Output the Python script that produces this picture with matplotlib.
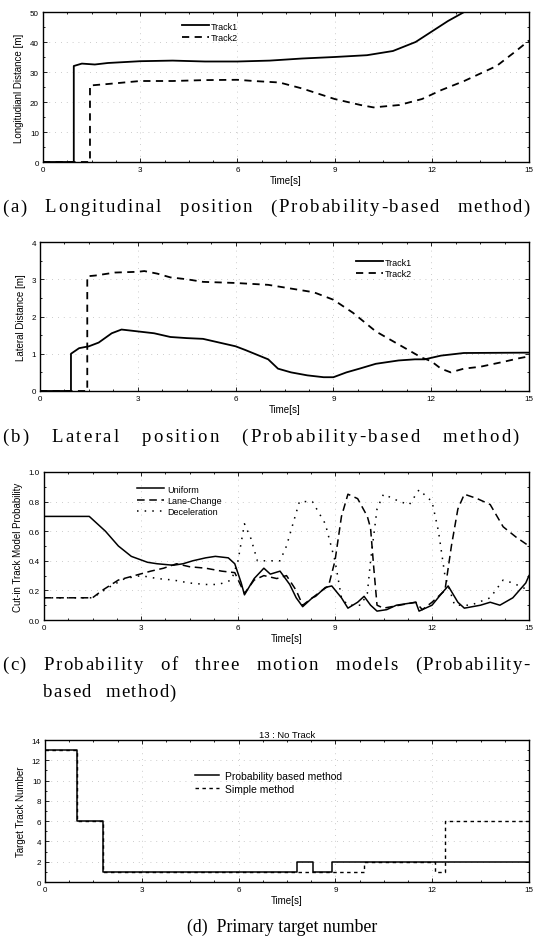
import matplotlib
matplotlib.use("Agg")
import matplotlib.pyplot as plt
import numpy as np
from matplotlib.ticker import MultipleLocator, FormatStrFormatter

# (a) longitudinal distance
t_a1 = [0, 0.95, 0.95, 1.2, 1.6, 2.0, 2.5, 3.0, 4.0, 5.0, 6.0, 7.0, 8.0, 9.0,
        10.0, 10.8, 11.5, 12.0, 12.5, 13.0, 15.0]
lon_1 = [0, 0, 32, 32.8, 32.5, 33.0, 33.3, 33.6, 33.8, 33.5, 33.5, 33.8, 34.5,
         35.0, 35.6, 37.0, 40.0, 43.5, 47.0, 50.0, 50.0]
t_a2 = [0, 1.45, 1.45, 2.0, 3.0, 4.0, 5.0, 6.0, 6.5, 7.3, 8.0, 9.0, 9.8, 10.2,
        11.0, 11.7, 12.3, 13.0, 14.0, 14.6, 15.0]
lon_2 = [0, 0, 25.5, 26.0, 27.0, 27.0, 27.3, 27.4, 27.0, 26.5, 24.5, 21.0,
         19.0, 18.2, 19.0, 21.0, 24.0, 27.0, 32.0, 37.0, 40.5]

# (b) lateral distance
t_b1 = [0, 0.95, 0.95, 1.2, 1.5, 1.8, 2.2, 2.5, 3.0, 3.5, 4.0, 4.5, 5.0, 5.5,
        6.0, 6.3, 7.0, 7.3, 7.7, 8.2, 8.7, 9.0, 9.4, 9.8, 10.3, 11.0, 11.5,
        11.8, 12.3, 13.0, 15.0]
lat_1 = [0, 0, 1.0, 1.15, 1.2, 1.3, 1.55, 1.65, 1.6, 1.55, 1.45, 1.42, 1.4,
         1.3, 1.2, 1.1, 0.85, 0.6, 0.5, 0.42, 0.37, 0.37, 0.5, 0.6, 0.73,
         0.82, 0.85, 0.85, 0.95, 1.02, 1.03]
t_b2 = [0, 1.45, 1.45, 1.7, 2.3, 3.0, 3.2, 3.6, 4.0, 4.5, 5.0, 6.0, 7.0, 7.7,
        8.4, 9.0, 9.6, 10.3, 11.0, 11.7, 12.0, 12.3, 12.6, 13.0, 13.5, 14.2,
        14.7, 15.0]
lat_2 = [0, 0, 3.08, 3.1, 3.18, 3.2, 3.22, 3.15, 3.05, 3.0, 2.93, 2.9, 2.85,
         2.75, 2.65, 2.45, 2.1, 1.6, 1.25, 0.9, 0.8, 0.6, 0.5, 0.6, 0.65,
         0.78, 0.88, 0.93]

# (c) model probabilities
t_u = [0, 1.4, 1.9, 2.3, 2.7, 3.2, 3.5, 4.0, 4.3, 4.6, 5.0, 5.3, 5.7, 5.9,
       6.1, 6.2, 6.5, 6.8, 7.0, 7.3, 7.6, 7.8, 8.0, 8.3, 8.4, 8.7, 8.9, 9.2,
       9.4, 9.7, 9.9, 10.1, 10.3, 10.6, 10.9, 11.2, 11.5, 11.6, 12.0, 12.3,
       12.5, 12.8, 13.0, 13.5, 13.8, 14.1, 14.5, 14.9, 15.0]
p_uniform = [0.7, 0.7, 0.6, 0.5, 0.43, 0.39, 0.38, 0.37, 0.38, 0.4, 0.42,
             0.43, 0.42, 0.38, 0.25, 0.17, 0.28, 0.35, 0.31, 0.33, 0.24,
             0.15, 0.09, 0.15, 0.16, 0.22, 0.23, 0.15, 0.08, 0.12, 0.16, 0.1,
             0.06, 0.07, 0.1, 0.11, 0.12, 0.06, 0.1, 0.18, 0.23, 0.12, 0.08,
             0.1, 0.12, 0.1, 0.15, 0.25, 0.3]
t_l = [0, 1.5, 1.8, 2.3, 2.8, 3.3, 3.7, 4.1, 4.5, 5.0, 5.5, 5.9, 6.2, 6.5,
       6.8, 7.2, 7.5, 7.8, 8.0, 8.3, 8.6, 8.8, 9.0, 9.2, 9.4, 9.7, 10.0,
       10.1, 10.2, 10.3, 10.5, 11.0, 11.5, 11.7, 12.0, 12.4, 12.6, 12.8,
       13.0, 13.4, 13.8, 14.2, 14.6, 15.0]
p_lane = [0.15, 0.15, 0.2, 0.27, 0.3, 0.33, 0.35, 0.38, 0.36, 0.35, 0.33,
          0.32, 0.18, 0.27, 0.3, 0.28, 0.3, 0.2, 0.1, 0.15, 0.2, 0.23, 0.4,
          0.7, 0.85, 0.82, 0.7, 0.62, 0.35, 0.1, 0.08, 0.1, 0.12, 0.07, 0.12,
          0.2, 0.5, 0.75, 0.85, 0.82, 0.78, 0.63, 0.56, 0.5]
t_d = [0, 1.5, 2.0, 2.5, 3.0, 3.5, 4.0, 4.5, 5.0, 5.4, 5.8, 6.0, 6.2, 6.4,
       6.6, 7.3, 7.5, 7.9, 8.3, 8.7, 9.0, 9.2, 9.4, 9.8, 10.0, 10.1, 10.3,
       10.5, 11.0, 11.3, 11.6, 12.0, 12.2, 12.4, 12.7, 13.2, 13.8, 14.2,
       14.5, 15.0]
p_decel = [0.15, 0.15, 0.22, 0.28, 0.3, 0.28, 0.27, 0.25, 0.24, 0.24, 0.27,
           0.4, 0.65, 0.55, 0.4, 0.4, 0.5, 0.8, 0.8, 0.65, 0.4, 0.15, 0.1,
           0.1, 0.18, 0.4, 0.75, 0.85, 0.8, 0.78, 0.88, 0.8, 0.6, 0.3, 0.1,
           0.1, 0.15, 0.27, 0.25, 0.2]

# (d) target track number (step)
t_prob = [0, 1.0, 1.8, 7.8, 8.3, 8.9, 15.0]
n_prob = [13, 6, 1, 2, 1, 2, 2]
t_simple = [0, 1.0, 1.8, 9.9, 12.1, 12.4, 15.0]
n_simple = [13, 6, 1, 2, 1, 6, 6]

xticks = [0, 3, 6, 9, 12, 15]

plt.rcParams['font.family'] = ['Liberation Sans', 'DejaVu Sans']

W, H = 536, 937
fig = plt.figure(figsize=(W / 100, H / 100), dpi=100)
renderer = fig.canvas.get_renderer()
capfont = dict(family='Liberation Serif', fontsize=13.5)
ESPACIO = 4.5   # ancho de un espacio en px
K_ESP = 6       # los espacios se estiran K_ESP veces mas que las letras


def px_axes(l, t, r, b):
    return fig.add_axes([l / W, 1 - b / H, (r - l) / W, (b - t) / H])


def estilo(ax, ymax, ystep, ylabel, fmt=None):
    ax.set_xlim(0, 15)
    ax.set_ylim(0, ymax)
    ax.set_xticks(xticks)
    ax.yaxis.set_major_locator(MultipleLocator(ystep))
    ax.xaxis.set_minor_locator(MultipleLocator(0.75))
    ax.yaxis.set_minor_locator(MultipleLocator(ystep / 2))
    ax.tick_params(which='both', direction='in', top=True, right=True,
                   labelsize=5.8, pad=3, width=0.6)
    ax.tick_params(which='major', length=3)
    ax.tick_params(which='minor', length=1.5)
    if fmt:
        ax.yaxis.set_major_formatter(fmt)
    ax.set_xlabel("Time[s]", fontsize=7, labelpad=1)
    ax.set_ylabel(ylabel, fontsize=7, labelpad=4)
    ax.grid(True, color='#bbbbbb', linestyle=(0, (1, 6)), linewidth=0.6)
    for s in ax.spines.values():
        s.set_linewidth(1.0)


def letras(texto, x0, y, x1=None, paso=0.0):
    # caption text, justified to x1 (extra room mostly in word spaces)
    items = []
    for c in texto:
        if c == ' ':
            items.append((None, ESPACIO))
        else:
            t = fig.text(0, 1 - y / H, c, va='center', ha='left', **capfont)
            items.append((t, t.get_window_extent(renderer).width))
    n_esp = texto.count(' ')
    if x1 is not None:
        extra = x1 - x0 - sum(a for _, a in items)
        paso = extra / (len(items) - 1 + K_ESP * n_esp)
    x = x0
    for t, a in items:
        if t is not None:
            t.set_x(x / W)
            x += a + paso
        else:
            x += a + paso * (1 + K_ESP)


# (a)
ax1 = px_axes(43, 13, 529, 163)
ax1.plot(t_a1, lon_1, 'k-', lw=1.3, label='Track1')
ax1.plot(t_a2, lon_2, 'k--', lw=1.3, dashes=(4, 3), label='Track2')
estilo(ax1, 50, 10, "Longitudianl Distance [m]")
ax1.legend(loc='upper left', bbox_to_anchor=(0.27, 0.99), frameon=False,
           fontsize=6.5, handlelength=3, labelspacing=0.3, handletextpad=0.2)
letras("(a) Longitudinal position (Probability-based method)", 2, 208, x1=530)

# (b)
ax2 = px_axes(40, 243, 529, 392)
ax2.plot(t_b1, lat_1, 'k-', lw=1.3, label='Track1')
ax2.plot(t_b2, lat_2, 'k--', lw=1.3, dashes=(4, 3), label='Track2')
estilo(ax2, 4, 1, "Lateral Distance [m]")
ax2.legend(loc='upper left', bbox_to_anchor=(0.63, 0.95), frameon=False,
           fontsize=6.5, handlelength=3, labelspacing=0.3, handletextpad=0.2)
letras("(b) Lateral position (Probability-based method)", 2, 437, x1=519)

# (c)
ax3 = px_axes(44, 473, 529, 621)
ax3.plot(t_u, p_uniform, 'k-', lw=1.1, label='Uniform')
ax3.plot(t_l, p_lane, 'k--', lw=1.1, dashes=(5, 3), label='Lane-Change')
ax3.plot(t_d, p_decel, 'k:', lw=1.1, dashes=(1, 4), label='Deceleration')
estilo(ax3, 1.0, 0.2, "Cut-in Track Model Probability",
       fmt=FormatStrFormatter('%.1f'))
ax3.legend(loc='upper left', bbox_to_anchor=(0.175, 0.97), frameon=False,
           fontsize=6.5, handlelength=3, labelspacing=0.25, handletextpad=0.3)
letras("(c) Probability of three motion models (Probability-", 2, 665, x1=530)
letras("based method)", 43, 693, paso=1.3)

# (d)
ax4 = px_axes(45, 741, 529, 883)
ax4.step(t_prob, n_prob, 'k-', where='post', lw=1.1, label='Probability based method')
ax4.step(t_simple, n_simple, 'k--', where='post', lw=1.0, dashes=(2.5, 2.5),
         label='Simple method')
estilo(ax4, 14, 2, "Target Track Number")
ax4.set_title("13 : No Track", fontsize=6.8, pad=2)
ax4.legend(loc='upper left', bbox_to_anchor=(0.29, 0.85), frameon=False,
           fontsize=7.5, handlelength=2.3, labelspacing=0.3, handletextpad=0.6)
fig.text(282 / W, 1 - 927 / H, "(d)  Primary target number", va='center',
         ha='center', family='Liberation Serif', fontsize=12.8)

fig.savefig("out.png", dpi=100, facecolor='white')
